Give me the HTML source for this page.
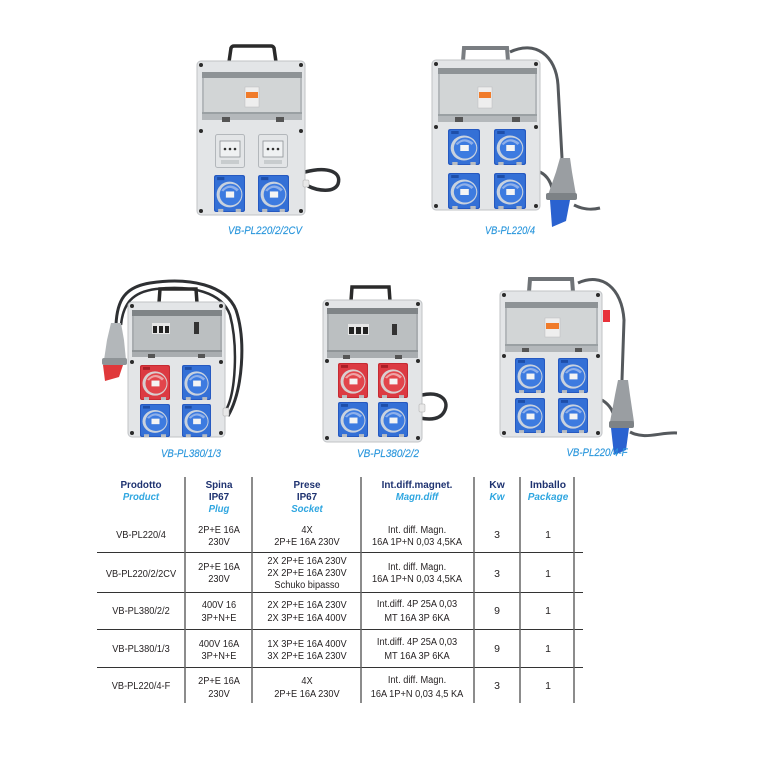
<!DOCTYPE html>
<html>
<head>
<meta charset="utf-8">
<style>
  html,body{margin:0;padding:0;background:#fff;}
  svg{display:block;}
  .lbl{font-family:"Liberation Sans",sans-serif;font-style:italic;font-size:11px;fill:#2a96dc;stroke:#2a96dc;stroke-width:0.15;}
  .hd{font-family:"Liberation Sans",sans-serif;font-weight:bold;font-size:10.3px;fill:#1e3270;}
  .sh{font-family:"Liberation Sans",sans-serif;font-weight:bold;font-style:italic;font-size:10px;fill:#2fa6e0;}
  .bd{font-family:"Liberation Sans",sans-serif;font-size:10.5px;fill:#231f20;}
</style>
</head>
<body>
<svg width="768" height="768" viewBox="0 0 768 768" xmlns="http://www.w3.org/2000/svg">
<defs>
  <symbol id="bs" viewBox="0 0 30 36" preserveAspectRatio="none">
    <rect x="0" y="0" width="30" height="36" rx="2" fill="#2659c0"/>
    <rect x="1" y="1" width="28" height="34" rx="2" fill="#3470d6"/>
    <rect x="3" y="2" width="7" height="3" fill="#1e4ea8"/>
    <circle cx="15" cy="19" r="12.5" fill="#c9d2de"/>
    <circle cx="16" cy="19" r="10.5" fill="#3d7be0"/>
    <path d="M7 15 Q15 6 24 14 L22 16 Q15 9 9 16 Z" fill="#8fb0ea"/>
    <rect x="11.5" y="16" width="8" height="6" fill="#f4f4f4"/>
    <rect x="4" y="33" width="5" height="3" fill="#b9bdc2"/>
    <rect x="21" y="33" width="5" height="3" fill="#b9bdc2"/>
  </symbol>
  <symbol id="rs" viewBox="0 0 30 36" preserveAspectRatio="none">
    <rect x="0" y="0" width="30" height="36" rx="2" fill="#c62a32"/>
    <rect x="1" y="1" width="28" height="34" rx="2" fill="#dc3a42"/>
    <rect x="3" y="2" width="7" height="3" fill="#a81f26"/>
    <circle cx="15" cy="19" r="12.5" fill="#d8cfd0"/>
    <circle cx="16" cy="19" r="10.5" fill="#e2454b"/>
    <path d="M7 15 Q15 6 24 14 L22 16 Q15 9 9 16 Z" fill="#eea3a5"/>
    <rect x="11.5" y="16" width="8" height="6" fill="#f4f4f4"/>
    <rect x="4" y="33" width="5" height="3" fill="#b9bdc2"/>
    <rect x="21" y="33" width="5" height="3" fill="#b9bdc2"/>
  </symbol>
  <symbol id="sk" viewBox="0 0 30 34" preserveAspectRatio="none">
    <rect x="0.5" y="0.5" width="29" height="33" rx="2" fill="#e3e5e7" stroke="#b3b7bb"/>
    <rect x="5" y="7" width="20" height="16" fill="#eff1f2" stroke="#8d9195" stroke-width="0.8"/>
    <circle cx="10" cy="15" r="1.3" fill="#333"/>
    <circle cx="15" cy="15" r="1.3" fill="#333"/>
    <circle cx="20" cy="15" r="1.3" fill="#333"/>
    <rect x="6" y="26" width="18" height="4" fill="#c8ccce"/>
  </symbol>
</defs>

<!-- ========== Product 1: VB-PL220/2/2CV ========== -->
<path d="M305,172 C328,166 342,172 338,184 C334,193 318,191 308,186" fill="none" stroke="#2e3033" stroke-width="3.5"/>
<path d="M229,62 L231,48 Q232,46 234,46 L271,46 Q273,46 274,48 L276,62" fill="none" stroke="#2a2a2a" stroke-width="3.5"/>
<rect x="197" y="61" width="108" height="154" rx="4" fill="#e3e5e7" stroke="#c0c3c6"/>
<rect x="202" y="72" width="100" height="48" fill="#b4b8bb"/>
<rect x="204" y="78" width="96" height="34" fill="#d2d5d6"/>
<rect x="202" y="72" width="100" height="6" fill="#8e9396"/>
<rect x="202" y="112" width="100" height="2" fill="#9aa0a3"/>
<rect x="245" y="87" width="14" height="20" fill="#eeeeee" stroke="#bbb" stroke-width="0.5"/>
<rect x="246" y="92" width="12" height="6" fill="#f07b2a"/>
<rect x="222" y="117" width="8" height="5" fill="#555"/>
<rect x="276" y="117" width="8" height="5" fill="#555"/>
<circle cx="201" cy="65" r="2" fill="#2b2b2b"/><circle cx="301" cy="65" r="2" fill="#2b2b2b"/>
<circle cx="201" cy="131" r="2" fill="#2b2b2b"/><circle cx="301" cy="131" r="2" fill="#2b2b2b"/>
<circle cx="201" cy="211" r="2" fill="#2b2b2b"/><circle cx="301" cy="211" r="2" fill="#2b2b2b"/>
<use href="#sk" x="215" y="134" width="30" height="34"/>
<use href="#sk" x="258" y="134" width="30" height="34"/>
<use href="#bs" x="214" y="175" width="31" height="37"/>
<use href="#bs" x="258" y="175" width="31" height="37"/>
<rect x="303" y="180" width="6" height="7" rx="1" fill="#e8e8e8" stroke="#aaa" stroke-width="0.5"/>
<text class="lbl" x="265" y="234" text-anchor="middle" textLength="74" lengthAdjust="spacingAndGlyphs">VB-PL220/2/2CV</text>

<!-- ========== Product 2: VB-PL220/4 ========== -->
<path d="M510,52 C535,40 556,55 558,85 L562,158" fill="none" stroke="#55595d" stroke-width="3"/>
<path d="M540,172 C548,176 552,184 553,194" fill="none" stroke="#55595d" stroke-width="3"/>
<path d="M574,205 C584,210 592,210 600,208" fill="none" stroke="#55595d" stroke-width="3"/>
<path d="M463,61 L464,48 L507,48 L508,61" fill="none" stroke="#7a7e82" stroke-width="4"/>
<rect x="432" y="60" width="108" height="150" rx="4" fill="#e3e5e7" stroke="#c0c3c6"/>
<rect x="438" y="68" width="99" height="54" fill="#b4b8bb"/>
<rect x="440" y="74" width="95" height="40" fill="#d2d5d6"/>
<rect x="438" y="68" width="99" height="6" fill="#8e9396"/>
<rect x="438" y="114" width="99" height="2" fill="#9aa0a3"/>
<rect x="478" y="87" width="14" height="21" fill="#eeeeee" stroke="#bbb" stroke-width="0.5"/>
<rect x="479" y="92" width="12" height="6" fill="#f07b2a"/>
<rect x="455" y="117" width="8" height="5" fill="#555"/>
<rect x="512" y="117" width="8" height="5" fill="#555"/>
<circle cx="436" cy="64" r="2" fill="#2b2b2b"/><circle cx="536" cy="64" r="2" fill="#2b2b2b"/>
<circle cx="436" cy="127" r="2" fill="#2b2b2b"/><circle cx="536" cy="127" r="2" fill="#2b2b2b"/>
<circle cx="436" cy="206" r="2" fill="#2b2b2b"/><circle cx="536" cy="206" r="2" fill="#2b2b2b"/>
<use href="#bs" x="448" y="129" width="32" height="36"/>
<use href="#bs" x="494" y="129" width="32" height="36"/>
<use href="#bs" x="448" y="173" width="32" height="36"/>
<use href="#bs" x="494" y="173" width="32" height="36"/>
<path d="M560,158 L570,158 L572,172 L576,195 L548,195 L556,172 Z" fill="#9a9ea2"/>
<rect x="546" y="193" width="31" height="7" rx="2" fill="#7d8286"/>
<path d="M550,200 L570,200 L566,221 L552,227 Z" fill="#2a62d0"/>
<text class="lbl" x="510" y="234" text-anchor="middle" textLength="50" lengthAdjust="spacingAndGlyphs">VB-PL220/4</text>

<!-- ========== Product 3: VB-PL380/1/3 ========== -->
<path d="M116,325 C117,300 125,287 150,283 C190,277 226,285 236,310 C246,340 243,390 228,416" fill="none" stroke="#2e3033" stroke-width="3"/>
<path d="M121,325 C123,304 132,292 156,289 C192,285 222,292 230,315 C238,345 236,392 226,410" fill="none" stroke="#2e3033" stroke-width="2.5"/>
<path d="M159,303 L160,289 L196,289 L197,303" fill="none" stroke="#2a2a2a" stroke-width="3.5"/>
<rect x="128" y="302" width="97" height="135" rx="4" fill="#e3e5e7" stroke="#c0c3c6"/>
<rect x="132" y="310" width="90" height="47" fill="#a9adb0"/>
<rect x="134" y="316" width="86" height="34" fill="#bbbfc1"/>
<rect x="132" y="310" width="90" height="6" fill="#7f8487"/>
<rect x="132" y="350" width="90" height="2" fill="#8f9497"/>
<rect x="152" y="323" width="18" height="11" fill="#e6e6e6"/>
<rect x="153" y="326" width="4" height="7" fill="#222"/><rect x="159" y="326" width="4" height="7" fill="#222"/><rect x="165" y="326" width="4" height="7" fill="#222"/>
<rect x="194" y="322" width="5" height="12" fill="#333"/>
<rect x="148" y="354" width="7" height="4" fill="#555"/>
<rect x="198" y="354" width="7" height="4" fill="#555"/>
<circle cx="132" cy="306" r="2" fill="#2b2b2b"/><circle cx="221" cy="306" r="2" fill="#2b2b2b"/>
<circle cx="132" cy="362" r="2" fill="#2b2b2b"/><circle cx="221" cy="362" r="2" fill="#2b2b2b"/>
<circle cx="132" cy="433" r="2" fill="#2b2b2b"/><circle cx="221" cy="433" r="2" fill="#2b2b2b"/>
<use href="#rs" x="140" y="365" width="30" height="35"/>
<use href="#bs" x="182" y="365" width="29" height="35"/>
<use href="#bs" x="140" y="404" width="30" height="33"/>
<use href="#bs" x="182" y="404" width="29" height="33"/>
<rect x="223" y="408" width="6" height="8" rx="1" fill="#e8e8e8" stroke="#aaa" stroke-width="0.5"/>
<path d="M111,323 L121,323 L124,340 L126,360 L104,360 L107,340 Z" fill="#b3b7ba"/>
<rect x="102" y="358" width="25" height="7" rx="2" fill="#8f9497"/>
<path d="M103,365 L123,365 L119,377 L105,381 Z" fill="#e0383a"/>
<text class="lbl" x="191" y="457" text-anchor="middle" textLength="60" lengthAdjust="spacingAndGlyphs">VB-PL380/1/3</text>

<!-- ========== Product 4: VB-PL380/2/2 ========== -->
<path d="M422,395 C440,391 449,400 445,410 C441,420 430,420 420,418" fill="none" stroke="#2e3033" stroke-width="3.5"/>
<path d="M351,301 L352,287 L389,287 L390,301" fill="none" stroke="#2a2a2a" stroke-width="3.5"/>
<rect x="323" y="300" width="99" height="142" rx="4" fill="#e3e5e7" stroke="#c0c3c6"/>
<rect x="327" y="308" width="91" height="50" fill="#a9adb0"/>
<rect x="329" y="314" width="87" height="36" fill="#bbbfc1"/>
<rect x="327" y="308" width="91" height="6" fill="#7f8487"/>
<rect x="327" y="350" width="91" height="2" fill="#8f9497"/>
<rect x="348" y="324" width="21" height="11" fill="#e6e6e6"/>
<rect x="349" y="327" width="5" height="7" fill="#222"/><rect x="356" y="327" width="5" height="7" fill="#222"/><rect x="363" y="327" width="5" height="7" fill="#222"/>
<rect x="392" y="324" width="5" height="11" fill="#333"/>
<rect x="343" y="355" width="7" height="4" fill="#555"/>
<rect x="395" y="355" width="7" height="4" fill="#555"/>
<circle cx="327" cy="304" r="2" fill="#2b2b2b"/><circle cx="418" cy="304" r="2" fill="#2b2b2b"/>
<circle cx="327" cy="361" r="2" fill="#2b2b2b"/><circle cx="418" cy="361" r="2" fill="#2b2b2b"/>
<circle cx="327" cy="438" r="2" fill="#2b2b2b"/><circle cx="418" cy="438" r="2" fill="#2b2b2b"/>
<use href="#rs" x="338" y="363" width="30" height="35"/>
<use href="#rs" x="378" y="363" width="30" height="35"/>
<use href="#bs" x="338" y="402" width="30" height="35"/>
<use href="#bs" x="378" y="402" width="30" height="35"/>
<rect x="419" y="404" width="6" height="8" rx="1" fill="#e8e8e8" stroke="#aaa" stroke-width="0.5"/>
<text class="lbl" x="388" y="457" text-anchor="middle" textLength="62" lengthAdjust="spacingAndGlyphs">VB-PL380/2/2</text>

<!-- ========== Product 5: VB-PL220/4-F ========== -->
<path d="M578,283 C602,272 622,288 624,320 L622,380" fill="none" stroke="#55595d" stroke-width="3"/>
<path d="M602,400 C610,405 614,412 614,420" fill="none" stroke="#55595d" stroke-width="3"/>
<path d="M630,432 C645,440 660,432 677,433" fill="none" stroke="#55595d" stroke-width="3"/>
<path d="M529,292 L530,279 L572,279 L573,292" fill="none" stroke="#6f7377" stroke-width="4"/>
<rect x="500" y="291" width="102" height="146" rx="4" fill="#e3e5e7" stroke="#c0c3c6"/>
<rect x="505" y="302" width="93" height="50" fill="#b4b8bb"/>
<rect x="507" y="308" width="89" height="36" fill="#d2d5d6"/>
<rect x="505" y="302" width="93" height="6" fill="#8e9396"/>
<rect x="505" y="344" width="93" height="2" fill="#9aa0a3"/>
<rect x="545" y="318" width="15" height="19" fill="#eeeeee" stroke="#bbb" stroke-width="0.5"/>
<rect x="546" y="323" width="13" height="6" fill="#f07b2a"/>
<rect x="522" y="348" width="7" height="4" fill="#555"/>
<rect x="575" y="348" width="7" height="4" fill="#555"/>
<rect x="603" y="310" width="7" height="12" fill="#e8323a"/>
<circle cx="504" cy="295" r="2" fill="#2b2b2b"/><circle cx="598" cy="295" r="2" fill="#2b2b2b"/>
<circle cx="504" cy="356" r="2" fill="#2b2b2b"/><circle cx="598" cy="356" r="2" fill="#2b2b2b"/>
<circle cx="504" cy="433" r="2" fill="#2b2b2b"/><circle cx="598" cy="433" r="2" fill="#2b2b2b"/>
<use href="#bs" x="515" y="358" width="30" height="35"/>
<use href="#bs" x="558" y="358" width="30" height="35"/>
<use href="#bs" x="515" y="398" width="30" height="35"/>
<use href="#bs" x="558" y="398" width="30" height="35"/>
<path d="M618,380 L628,380 L630,395 L634,422 L610,422 L615,395 Z" fill="#9a9ea2"/>
<rect x="609" y="421" width="25" height="7" rx="2" fill="#7d8286"/>
<path d="M611,428 L629,428 L626,450 L614,455 Z" fill="#2a62d0"/>
<text class="lbl" x="597" y="456" text-anchor="middle" textLength="61" lengthAdjust="spacingAndGlyphs">VB-PL220/4-F</text>

<!-- ========== Table lines ========== -->
<g stroke="#333" stroke-width="1">
  <line x1="97" y1="552.5" x2="583" y2="552.5"/>
  <line x1="97" y1="592.5" x2="583" y2="592.5"/>
  <line x1="97" y1="629.5" x2="583" y2="629.5"/>
  <line x1="97" y1="667.5" x2="583" y2="667.5"/>
</g>
<g stroke="#666" stroke-width="1.5">
  <line x1="185" y1="477" x2="185" y2="703"/>
  <line x1="252" y1="477" x2="252" y2="703"/>
  <line x1="361" y1="477" x2="361" y2="703"/>
  <line x1="474" y1="477" x2="474" y2="703"/>
  <line x1="520" y1="477" x2="520" y2="703"/>
  <line x1="574" y1="477" x2="574" y2="703"/>
</g>

<!-- Column 1 -->
<g transform="translate(141,0) scale(0.96,1)" text-anchor="middle">
  <text class="hd" x="0" y="488">Prodotto</text>
  <text class="sh" x="0" y="500">Product</text>
</g>
<g transform="translate(141,0) scale(0.88,1)" text-anchor="middle">
  <text class="bd" x="0" y="538">VB-PL220/4</text>
  <text class="bd" x="0" y="577">VB-PL220/2/2CV</text>
  <text class="bd" x="0" y="614">VB-PL380/2/2</text>
  <text class="bd" x="0" y="652">VB-PL380/1/3</text>
  <text class="bd" x="0" y="689">VB-PL220/4-F</text>
</g>

<!-- Column 2 -->
<g transform="translate(219,0) scale(0.96,1)" text-anchor="middle">
  <text class="hd" x="0" y="488">Spina</text>
  <text class="hd" x="0" y="500">IP67</text>
  <text class="sh" x="0" y="512">Plug</text>
</g>
<g transform="translate(219,0) scale(0.88,1)" text-anchor="middle">
  <text class="bd" x="0" y="533">2P+E 16A</text>
  <text class="bd" x="0" y="545">230V</text>
  <text class="bd" x="0" y="570">2P+E 16A</text>
  <text class="bd" x="0" y="582">230V</text>
  <text class="bd" x="0" y="608">400V 16</text>
  <text class="bd" x="0" y="621">3P+N+E</text>
  <text class="bd" x="0" y="647">400V 16A</text>
  <text class="bd" x="0" y="659">3P+N+E</text>
  <text class="bd" x="0" y="684">2P+E 16A</text>
  <text class="bd" x="0" y="697">230V</text>
</g>

<!-- Column 3 -->
<g transform="translate(307,0) scale(0.96,1)" text-anchor="middle">
  <text class="hd" x="0" y="488">Prese</text>
  <text class="hd" x="0" y="500">IP67</text>
  <text class="sh" x="0" y="512">Socket</text>
</g>
<g transform="translate(307,0) scale(0.88,1)" text-anchor="middle">
  <text class="bd" x="0" y="533">4X</text>
  <text class="bd" x="0" y="545">2P+E 16A 230V</text>
  <text class="bd" x="0" y="564">2X 2P+E 16A 230V</text>
  <text class="bd" x="0" y="576">2X 2P+E 16A 230V</text>
  <text class="bd" x="0" y="588">Schuko bipasso</text>
  <text class="bd" x="0" y="608">2X 2P+E 16A 230V</text>
  <text class="bd" x="0" y="621">2X 3P+E 16A 400V</text>
  <text class="bd" x="0" y="647">1X 3P+E 16A 400V</text>
  <text class="bd" x="0" y="659">3X 2P+E 16A 230V</text>
  <text class="bd" x="0" y="684">4X</text>
  <text class="bd" x="0" y="697">2P+E 16A 230V</text>
</g>

<!-- Column 4 -->
<g transform="translate(417,0) scale(0.96,1)" text-anchor="middle">
  <text class="hd" x="0" y="488">Int.diff.magnet.</text>
  <text class="sh" x="0" y="500">Magn.diff</text>
</g>
<g transform="translate(417,0) scale(0.88,1)" text-anchor="middle">
  <text class="bd" x="0" y="533">Int. diff. Magn.</text>
  <text class="bd" x="0" y="545">16A 1P+N 0,03 4,5KA</text>
  <text class="bd" x="0" y="570">Int. diff. Magn.</text>
  <text class="bd" x="0" y="582">16A 1P+N 0,03 4,5KA</text>
  <text class="bd" x="0" y="607">Int.diff.  4P 25A 0,03</text>
  <text class="bd" x="0" y="621">MT 16A 3P 6KA</text>
  <text class="bd" x="0" y="645">Int.diff.  4P 25A 0,03</text>
  <text class="bd" x="0" y="659">MT 16A 3P 6KA</text>
  <text class="bd" x="0" y="683">Int. diff. Magn.</text>
  <text class="bd" x="0" y="697">16A 1P+N 0,03 4,5 KA</text>
</g>

<!-- Column 5 -->
<g transform="translate(497,0)" text-anchor="middle">
  <text class="hd" x="0" y="488">Kw</text>
  <text class="sh" x="0" y="500">Kw</text>
  <text class="bd" x="0" y="538">3</text>
  <text class="bd" x="0" y="577">3</text>
  <text class="bd" x="0" y="614">9</text>
  <text class="bd" x="0" y="652">9</text>
  <text class="bd" x="0" y="689">3</text>
</g>

<!-- Column 6 -->
<g transform="translate(548,0)" text-anchor="middle">
  <text class="hd" x="0" y="488">Imballo</text>
  <text class="sh" x="0" y="500">Package</text>
  <text class="bd" x="0" y="538">1</text>
  <text class="bd" x="0" y="577">1</text>
  <text class="bd" x="0" y="614">1</text>
  <text class="bd" x="0" y="652">1</text>
  <text class="bd" x="0" y="689">1</text>
</g>
</svg>
</body>
</html>
